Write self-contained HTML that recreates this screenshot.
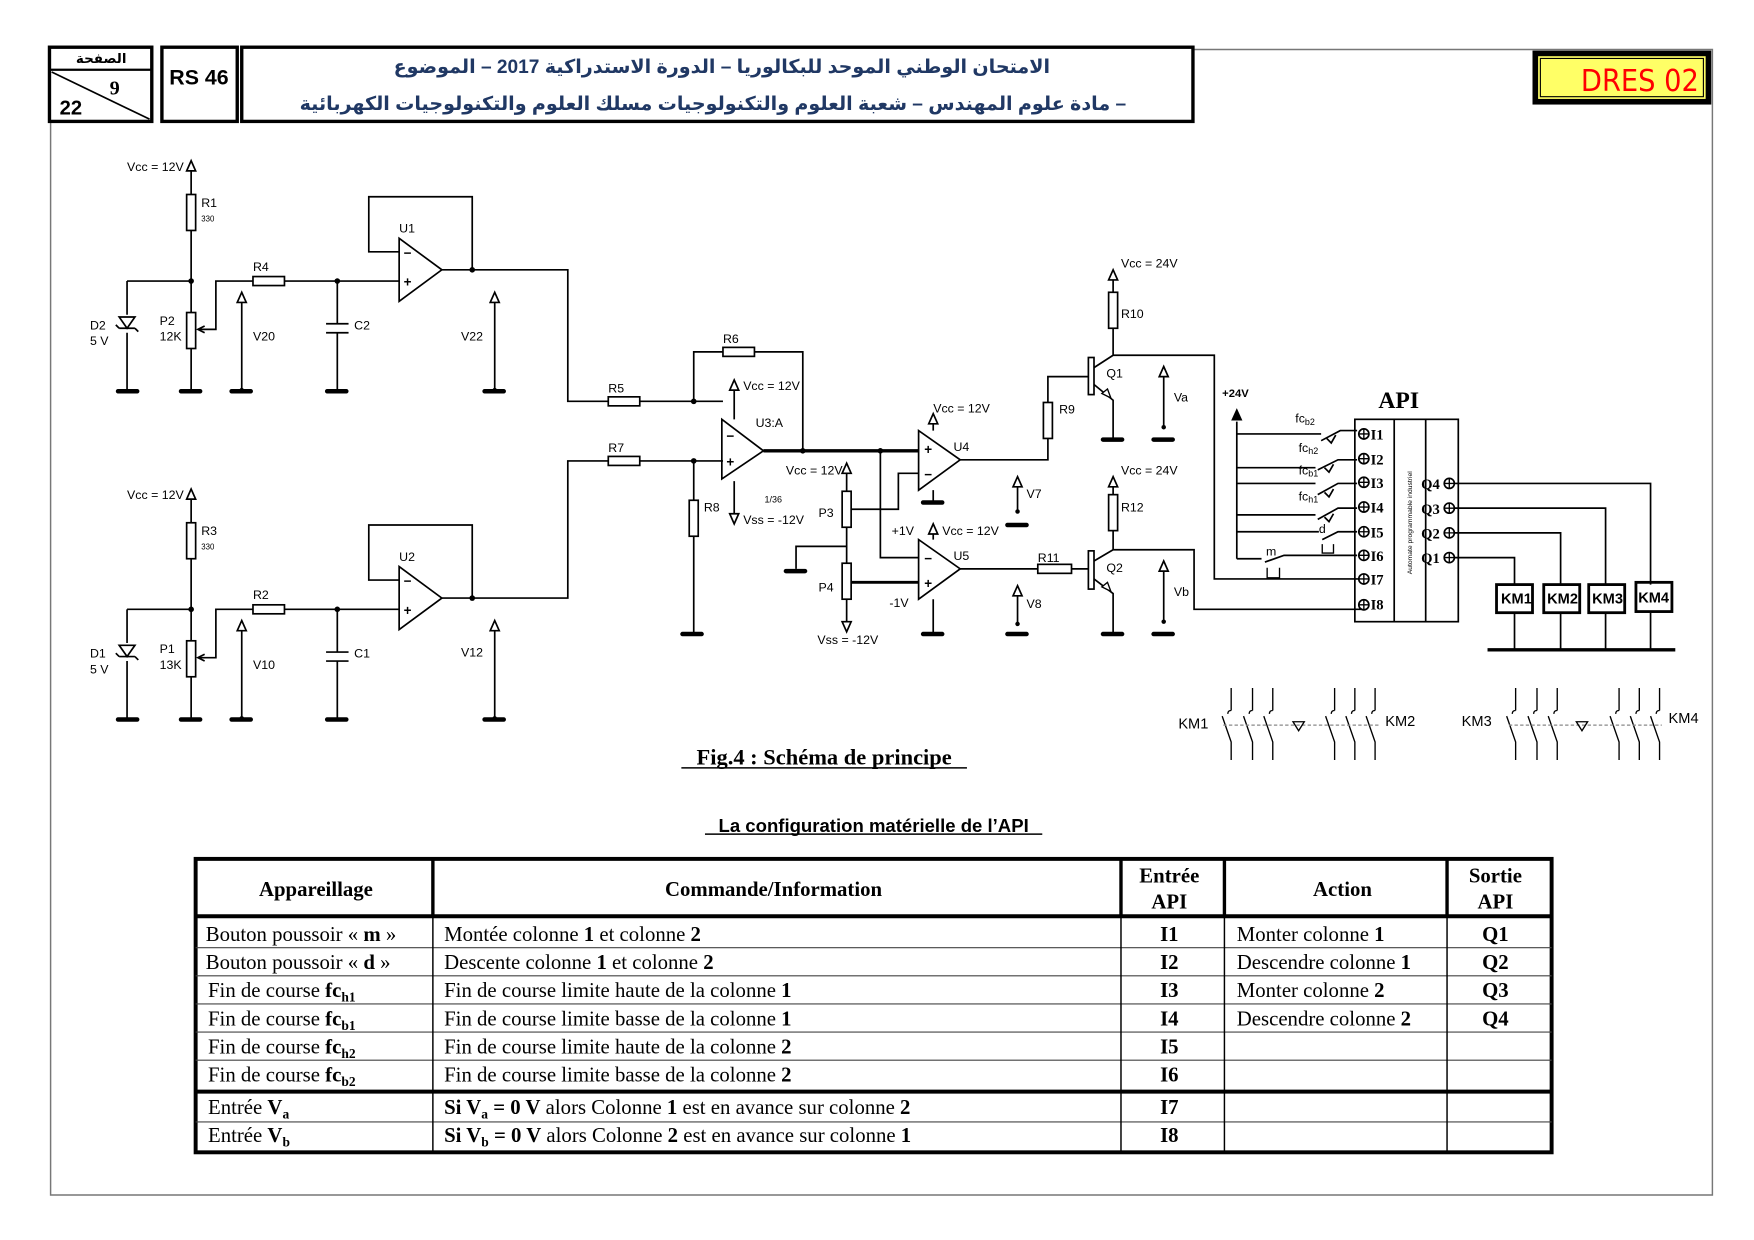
<!DOCTYPE html>
<html><head><meta charset="utf-8"><style>
html,body{margin:0;padding:0;background:#fff}
svg{display:block}
.s{font-family:"Liberation Sans",sans-serif}
.r{font-family:"Liberation Serif",serif}
</style></head><body>
<svg width="1754" height="1240" viewBox="0 0 1560 1103" preserveAspectRatio="none" xmlns="http://www.w3.org/2000/svg">
<!-- page border -->
<g fill="none" stroke="#777" stroke-width="1.3">
<path d="M1060 44 H1523 V1063 H45 V108"/>
</g>
<!-- header -->
<g fill="none" stroke="#000">
<rect x="44" y="42" width="91" height="66" stroke-width="3"/>
<line x1="44" y1="62" x2="135" y2="62" stroke-width="2"/>
<line x1="46" y1="64" x2="133" y2="106" stroke-width="1.5"/>
<rect x="144" y="42" width="67" height="66" stroke-width="3"/>
<rect x="215" y="42" width="846" height="66" stroke-width="3"/>
</g>
<text x="90" y="56" font-size="12" text-anchor="middle" font-weight="bold" style="font-family:'Liberation Sans','DejaVu Sans',sans-serif">الصفحة</text>
<text x="102" y="84" font-size="18" class="r" font-weight="bold" text-anchor="middle">9</text>
<text x="63" y="102" font-size="18" class="s" font-weight="bold" text-anchor="middle">22</text>
<text x="177" y="75" font-size="19" class="s" font-weight="bold" text-anchor="middle">RS 46</text>
<text x="642" y="65" font-size="17" font-weight="bold" fill="#203864" text-anchor="middle" style="font-family:'Liberation Sans','DejaVu Sans',sans-serif" direction="rtl">الامتحان الوطني الموحد للبكالوريا – الدورة الاستدراكية  2017 – الموضوع</text>
<text x="634" y="98" font-size="17" font-weight="bold" fill="#203864" text-anchor="middle" style="font-family:'Liberation Sans','DejaVu Sans',sans-serif" direction="rtl">– مادة علوم المهندس  –  شعبة العلوم والتكنولوجيات مسلك العلوم والتكنولوجيات الكهربائية</text>
<!-- DRES -->
<rect x="1363" y="45" width="159" height="48" fill="#000"/>
<rect x="1368" y="50" width="149" height="38" fill="#ffff66"/>
<rect x="1370" y="52" width="145" height="34" fill="none" stroke="#000" stroke-width="1"/>
<text x="1511" y="81" font-size="27" fill="#ff0000" text-anchor="end" style="font-family:'DejaVu Sans Condensed','DejaVu Sans',sans-serif" font-stretch="condensed">DRES 02</text>

<!-- CIRCUIT -->
<g fill="none" stroke="#000" stroke-width="1.5">
<path d="M170 152 V173 M170 205 V278 M170 310 V347 M113 250 H170 M113 250 V280 M113 296 V347"/>
<rect x="166" y="173" width="8" height="32"/>
<rect x="166" y="278" width="8" height="32"/>
<path d="M106 282 H120 L113 292 Z M106 292 H120 M106 292 l-3 -3 M120 292 l3 3"/>
<path d="M176 293 H192 V250 H225 M253 250 H355 M300 250 V288 M300 296 V347 M290 288 H310 M290 296 H310"/>
<path d="M182 290 l-6 3 l6 3" />
<rect x="225" y="246" width="28" height="8"/>
<path d="M355 212 L355 268 L393 240 Z"/>
<path d="M355 224 H328 V175 H420 V240 M393 240 H505 V357 H541 M569 357 H643 M617 357 V313 H643 M671 313 H714 V401"/>
<rect x="541" y="353" width="28" height="8"/>
<rect x="643" y="309" width="28" height="8"/>
<path d="M215 347 V262 M440 347 V262"/>
<path d="M170 444 V465 M170 497 V570 M170 602 V639 M113 542 H170 M113 542 V572 M113 588 V639"/>
<rect x="166" y="465" width="8" height="32"/>
<rect x="166" y="570" width="8" height="32"/>
<path d="M106 574 H120 L113 584 Z M106 584 H120 M106 584 l-3 -3 M120 584 l3 3"/>
<path d="M176 585 H192 V542 H225 M253 542 H355 M300 542 V580 M300 588 V639 M290 580 H310 M290 588 H310"/>
<path d="M182 582 l-6 3 l6 3"/>
<rect x="225" y="538" width="28" height="8"/>
<path d="M355 504 L355 560 L393 532 Z"/>
<path d="M355 516 H328 V467 H420 V532 M393 532 H505 V410 H541 M569 410 H643 M617 410 V445 M617 477 V563"/>
<rect x="541" y="406" width="28" height="8"/>
<rect x="613" y="445" width="8" height="32"/>
<path d="M215 639 V554 M440 639 V554"/>
<path d="M642 373 L642 426 L679 401 Z"/>
<path d="M653 373 V342 M653 428 V462"/>
<path d="M679 401 H817" stroke-width="3"/>
<path d="M783 401 V496 H817"/>
<path d="M817 383 L817 436 L854 409 Z"/>
<path d="M817 421 H799 V453 H757 M753 420 V437 M753 469 V501 M753 533 V558 M753 486 H708 V506"/>
<path d="M757 518 H817" stroke-width="2.5"/>
<rect x="749" y="437" width="8" height="32"/>
<rect x="749" y="501" width="8" height="32"/>
<path d="M817 480 L817 533 L854 506 Z"/>
<path d="M830 383 V372 M830 436 V446 M830 480 V470 M830 533 V563"/>
<path d="M854 409 H932 V390 M932 358 V335 H970 M854 506 H923 M953 506 H970"/>
<rect x="928" y="358" width="8" height="32"/>
<rect x="923" y="502" width="30" height="8"/>
<path d="M905 455 V427 M905 555 V525 M1035 380 V330 M1035 553 V503"/>
<rect x="968" y="318" width="5" height="33" fill="#fff"/>
<path d="M973 327 L990 316 V292 M990 260 V244 M973 342 L990 356 V390 M990 316 H1080 V515 H1215"/>
<rect x="986" y="260" width="8" height="32"/>
<rect x="968" y="490" width="5" height="34" fill="#fff"/>
<path d="M973 499 L990 489 V472 M990 440 V428 M973 515 L990 528 V563 M990 489 H1062 V542 H1215"/>
<rect x="986" y="440" width="8" height="32"/>
<path d="M1100 375 V497 M1100 386 H1175 M1100 416 H1170 M1100 430 H1170 M1100 458 H1170 M1100 473 H1173 M1100 497 H1122"/>
<path d="M1175 392 L1192 383 H1207 M1172 418 L1190 409 H1207 M1172 440 L1190 430 H1207 M1172 462 L1190 452 H1207 M1176 480 L1190 473 H1207 M1125 500 L1142 494 H1207"/>
<path d="M1180 390 l4 4 l4 -7 M1178 416 l4 4 l4 -7 M1178 438 l4 4 l4 -7 M1178 460 l4 4 l4 -7"/>
<path d="M1176 484 V492 H1186 V484 M1127 505 V514 H1138 V505" stroke-width="1.2"/>
<rect x="1205" y="373" width="92" height="180"/>
<path d="M1240 373 V553 M1268 373 V553"/>
<path d="M1294 430 H1468 V520 M1294 452 H1428 V520 M1294 474 H1388 V520 M1294 496 H1347 V520 M1347 545 V578 M1388 545 V578 M1428 545 V578 M1468 545 V578"/>
<rect x="1331" y="520" width="32" height="25" stroke-width="2.5"/>
<rect x="1373" y="520" width="32" height="25" stroke-width="2.5"/>
<rect x="1413" y="520" width="32" height="25" stroke-width="2.5"/>
<rect x="1455" y="518" width="32" height="26" stroke-width="2.5"/>
<path d="M1323 578 H1490" stroke-width="3"/>
</g>
<g fill="#fff" stroke="#000" stroke-width="1.5">
<circle cx="1213" cy="386" r="4.5"/><circle cx="1213" cy="408" r="4.5"/><circle cx="1213" cy="429" r="4.5"/><circle cx="1213" cy="451" r="4.5"/>
<circle cx="1213" cy="473" r="4.5"/><circle cx="1213" cy="494" r="4.5"/><circle cx="1213" cy="515" r="4.5"/><circle cx="1213" cy="538" r="4.5"/>
<circle cx="1289" cy="430" r="4.5"/><circle cx="1289" cy="452" r="4.5"/><circle cx="1289" cy="474" r="4.5"/><circle cx="1289" cy="496" r="4.5"/>
</g>
<g stroke="#000" stroke-width="1.2">
<path d="M1208 386 h10 M1213 381 v10 M1208 408 h10 M1213 403 v10 M1208 429 h10 M1213 424 v10 M1208 451 h10 M1213 446 v10 M1208 473 h10 M1213 468 v10 M1208 494 h10 M1213 489 v10 M1208 515 h10 M1213 510 v10 M1208 538 h10 M1213 533 v10 M1284 430 h10 M1289 425 v10 M1284 452 h10 M1289 447 v10 M1284 474 h10 M1289 469 v10 M1284 496 h10 M1289 491 v10"/>
</g>
<g fill="#fff" stroke="#000" stroke-width="1.5">
<path d="M170 143 l-4 9 h8 z M170 435 l-4 9 h8 z M215 260 l-4 9 h8 z M440 260 l-4 9 h8 z M215 552 l-4 9 h8 z M440 552 l-4 9 h8 z"/>
<path d="M653 338 l-4 9 h8 z M653 466 l-4 -9 h8 z M753 412 l-4 9 h8 z M753 562 l-4 -9 h8 z M830 368 l-4 9 h8 z M830 466 l-4 9 h8 z"/>
<path d="M905 424 l-4 9 h8 z M905 521 l-4 9 h8 z M1035 326 l-4 9 h8 z M1035 499 l-4 9 h8 z M990 240 l-4 9 h8 z M990 424 l-4 9 h8 z"/>
</g>
<path d="M1100 363 l-5 11 h10 z" fill="#000"/>
<path d="M980 350 l8 4 l-3 -8 z M980 522 l8 4 l-3 -8 z" fill="#fff" stroke="#000" stroke-width="1.2"/>
<g fill="#000">
<circle cx="170" cy="250" r="2.5"/><circle cx="300" cy="250" r="2.5"/><circle cx="420" cy="240" r="2.5"/>
<circle cx="170" cy="542" r="2.5"/><circle cx="300" cy="542" r="2.5"/><circle cx="420" cy="532" r="2.5"/>
<circle cx="617" cy="357" r="2.5"/><circle cx="617" cy="410" r="2.5"/><circle cx="714" cy="401" r="2.5"/><circle cx="783" cy="401" r="2.5"/>
<circle cx="905" cy="455" r="2"/><circle cx="905" cy="555" r="2"/><circle cx="1035" cy="380" r="2"/><circle cx="1035" cy="553" r="2"/>
<circle cx="215" cy="347" r="2"/><circle cx="440" cy="347" r="2"/><circle cx="215" cy="639" r="2"/><circle cx="440" cy="639" r="2"/>
</g>
<g stroke="#000" stroke-width="4" stroke-linecap="round">
<path d="M105 348 h17 M161 348 h17 M206 348 h17 M291 348 h17 M431 348 h17"/>
<path d="M105 640 h17 M161 640 h17 M206 640 h17 M291 640 h17 M431 640 h17"/>
<path d="M607 564 h17 M699 508 h17 M821 447 h17 M821 564 h17 M896 467 h17 M896 564 h17 M981 391 h17 M1026 391 h17 M981 564 h17 M1026 564 h17"/>
</g>
<g class="s" font-size="11" fill="#000">
<text x="113" y="152">Vcc = 12V</text><text x="179" y="184">R1</text><text x="179" y="197" font-size="7">330</text>
<text x="225" y="241">R4</text><text x="80" y="293">D2</text><text x="80" y="307">5 V</text>
<text x="142" y="289">P2</text><text x="142" y="303">12K</text><text x="225" y="303">V20</text><text x="315" y="293">C2</text>
<text x="355" y="207">U1</text><text x="410" y="303">V22</text>
<text x="113" y="444">Vcc = 12V</text><text x="179" y="476">R3</text><text x="179" y="489" font-size="7">330</text>
<text x="225" y="533">R2</text><text x="80" y="585">D1</text><text x="80" y="599">5 V</text>
<text x="142" y="581">P1</text><text x="142" y="595">13K</text><text x="225" y="595">V10</text><text x="315" y="585">C1</text>
<text x="355" y="499">U2</text><text x="410" y="584">V12</text>
<text x="643" y="305">R6</text><text x="541" y="349">R5</text><text x="541" y="402">R7</text><text x="626" y="455">R8</text>
<text x="661" y="347">Vcc = 12V</text><text x="672" y="380">U3:A</text><text x="661" y="466">Vss = -12V</text>
<text x="680" y="447" font-size="8">1/36</text>
<text x="699" y="422">Vcc = 12V</text><text x="728" y="460">P3</text><text x="728" y="526">P4</text>
<text x="727" y="573">Vss = -12V</text><text x="793" y="476">+1V</text><text x="791" y="540">-1V</text>
<text x="830" y="367">Vcc = 12V</text><text x="848" y="401">U4</text>
<text x="838" y="476">Vcc = 12V</text><text x="848" y="498">U5</text>
<text x="913" y="443">V7</text><text x="913" y="541">V8</text>
<text x="942" y="368">R9</text><text x="923" y="500">R11</text>
<text x="997" y="238">Vcc = 24V</text><text x="997" y="283">R10</text><text x="984" y="336">Q1</text><text x="1044" y="357">Va</text>
<text x="997" y="422">Vcc = 24V</text><text x="997" y="455">R12</text><text x="984" y="509">Q2</text><text x="1044" y="530">Vb</text>
<text x="1087" y="353" font-weight="bold" font-size="10">+24V</text>
<text x="1152" y="376">fc<tspan font-size="8" dy="2">b2</tspan></text>
<text x="1155" y="402">fc<tspan font-size="8" dy="2">h2</tspan></text>
<text x="1155" y="422">fc<tspan font-size="8" dy="2">b1</tspan></text>
<text x="1155" y="445">fc<tspan font-size="8" dy="2">h1</tspan></text>
<text x="1173" y="474">d</text><text x="1126" y="494">m</text>
<text x="1335" y="537" font-weight="bold" font-size="13">KM1</text><text x="1376" y="537" font-weight="bold" font-size="13">KM2</text>
<text x="1416" y="537" font-weight="bold" font-size="13">KM3</text><text x="1457" y="536" font-weight="bold" font-size="13">KM4</text>
<text x="1048" y="648" font-size="13">KM1</text><text x="1232" y="646" font-size="13">KM2</text>
<text x="1300" y="646" font-size="13">KM3</text><text x="1484" y="643" font-size="13">KM4</text>
</g>
<text x="1256" y="465" font-size="6" class="s" transform="rotate(-90 1256 465)" text-anchor="middle">Automate programmable industriel</text>
<g class="r" font-weight="bold" font-size="13">
<text x="1219" y="391">I1</text><text x="1219" y="413">I2</text><text x="1219" y="434">I3</text><text x="1219" y="456">I4</text>
<text x="1219" y="478">I5</text><text x="1219" y="499">I6</text><text x="1219" y="520">I7</text><text x="1219" y="542">I8</text>
<text x="1264" y="435">Q4</text><text x="1264" y="457">Q3</text><text x="1264" y="479">Q2</text><text x="1264" y="501">Q1</text>
</g>
<text x="1244" y="363" class="r" font-weight="bold" font-size="21" text-anchor="middle">API</text>
<g stroke="#000" stroke-width="1.2" fill="none">
<path d="M1095 612 V632 M1087 637 L1095 660 V676 M1114 612 V632 M1106 637 L1114 660 V676 M1132 612 V632 M1124 637 L1132 660 V676"/>
<path d="M1187 612 V632 M1179 637 L1187 660 V676 M1205 612 V632 M1197 637 L1205 660 V676 M1223 612 V632 M1215 637 L1223 660 V676"/>
<path d="M1348 612 V632 M1340 637 L1348 660 V676 M1367 612 V632 M1359 637 L1367 660 V676 M1385 612 V632 M1377 637 L1385 660 V676"/>
<path d="M1440 612 V632 M1432 637 L1440 660 V676 M1458 612 V632 M1450 637 L1458 660 V676 M1476 612 V632 M1468 637 L1476 660 V676"/>
<path d="M1095 632 q-3 0 -3 3 M1114 632 q-3 0 -3 3 M1132 632 q-3 0 -3 3 M1187 632 q-3 0 -3 3 M1205 632 q-3 0 -3 3 M1223 632 q-3 0 -3 3 M1348 632 q-3 0 -3 3 M1367 632 q-3 0 -3 3 M1385 632 q-3 0 -3 3 M1440 632 q-3 0 -3 3 M1458 632 q-3 0 -3 3 M1476 632 q-3 0 -3 3"/>
<path d="M1088 645 H1226 M1342 645 H1478" stroke="#888" stroke-dasharray="3 2"/>
<path d="M1150 642 h10 l-5 8 z M1402 642 h10 l-5 8 z"/>
</g>
<text x="733" y="680" class="r" font-weight="bold" font-size="20" text-anchor="middle">Fig.4 : Schéma de principe</text>
<line x1="606" y1="683" x2="860" y2="683" stroke="#000" stroke-width="1.3"/>
<text x="777" y="740" class="s" font-weight="bold" font-size="16.5" text-anchor="middle">La configuration matérielle de l’API</text>
<line x1="627" y1="742" x2="927" y2="742" stroke="#000" stroke-width="1.3"/>
<g stroke="#000" fill="none">
<rect x="174" y="764" width="1206" height="261" stroke-width="3.5"/>
<path d="M174 815 H1380 M174 971 H1380" stroke-width="3.5"/>
<path d="M174 843 H1380 M174 868 H1380 M174 893 H1380 M174 918 H1380 M174 943 H1380 M174 998 H1380" stroke-width="1" stroke="#444"/>
<path d="M385 764 V1025 M997 764 V1025 M1089 764 V1025 M1287 764 V1025" stroke-width="1.3"/>
<path d="M385 764 V815 M997 764 V815 M1089 764 V815 M1287 764 V815" stroke-width="3"/>
</g>
<g class="r" font-size="18.5">
<g font-weight="bold" text-anchor="middle">
<text x="281" y="797">Appareillage</text><text x="688" y="797">Commande/Information</text>
<text x="1040" y="785">Entrée</text><text x="1040" y="808">API</text>
<text x="1194" y="797">Action</text><text x="1330" y="785">Sortie</text><text x="1330" y="808">API</text>
<text x="1040" y="837">I1</text><text x="1040" y="862">I2</text><text x="1040" y="887">I3</text><text x="1040" y="912">I4</text>
<text x="1040" y="937">I5</text><text x="1040" y="962">I6</text><text x="1040" y="991">I7</text><text x="1040" y="1016">I8</text>
<text x="1330" y="837">Q1</text><text x="1330" y="862">Q2</text><text x="1330" y="887">Q3</text><text x="1330" y="912">Q4</text>
</g>
<text x="183" y="837">Bouton poussoir « <tspan font-weight="bold">m</tspan> »</text>
<text x="183" y="862">Bouton poussoir « <tspan font-weight="bold">d</tspan> »</text>
<text x="185" y="887">Fin de course <tspan font-weight="bold">fc<tspan font-size="12" dy="4">h1</tspan></tspan></text>
<text x="185" y="912">Fin de course <tspan font-weight="bold">fc<tspan font-size="12" dy="4">b1</tspan></tspan></text>
<text x="185" y="937">Fin de course <tspan font-weight="bold">fc<tspan font-size="12" dy="4">h2</tspan></tspan></text>
<text x="185" y="962">Fin de course <tspan font-weight="bold">fc<tspan font-size="12" dy="4">b2</tspan></tspan></text>
<text x="185" y="991">Entrée <tspan font-weight="bold">V<tspan font-size="12" dy="4">a</tspan></tspan></text>
<text x="185" y="1016">Entrée <tspan font-weight="bold">V<tspan font-size="12" dy="4">b</tspan></tspan></text>
<text x="395" y="837">Montée colonne <tspan font-weight="bold">1</tspan> et colonne <tspan font-weight="bold">2</tspan></text>
<text x="395" y="862">Descente colonne <tspan font-weight="bold">1</tspan> et colonne <tspan font-weight="bold">2</tspan></text>
<text x="395" y="887">Fin de course limite haute de la colonne <tspan font-weight="bold">1</tspan></text>
<text x="395" y="912">Fin de course limite basse de la colonne <tspan font-weight="bold">1</tspan></text>
<text x="395" y="937">Fin de course limite haute de la colonne <tspan font-weight="bold">2</tspan></text>
<text x="395" y="962">Fin de course limite basse de la colonne <tspan font-weight="bold">2</tspan></text>
<text x="395" y="991"><tspan font-weight="bold">Si V<tspan font-size="12" dy="4">a</tspan><tspan dy="-4"> = 0 V</tspan></tspan> alors Colonne <tspan font-weight="bold">1</tspan> est en avance sur colonne <tspan font-weight="bold">2</tspan></text>
<text x="395" y="1016"><tspan font-weight="bold">Si V<tspan font-size="12" dy="4">b</tspan><tspan dy="-4"> = 0 V</tspan></tspan> alors Colonne <tspan font-weight="bold">2</tspan> est en avance sur colonne <tspan font-weight="bold">1</tspan></text>
<text x="1100" y="837">Monter colonne <tspan font-weight="bold">1</tspan></text>
<text x="1100" y="862">Descendre colonne <tspan font-weight="bold">1</tspan></text>
<text x="1100" y="887">Monter colonne <tspan font-weight="bold">2</tspan></text>
<text x="1100" y="912">Descendre colonne <tspan font-weight="bold">2</tspan></text>
</g>
<g class="s" font-weight="bold" font-size="12">
<text x="359" y="229">−</text><text x="359" y="255">+</text>
<text x="359" y="521">−</text><text x="359" y="547">+</text>
<text x="646" y="392">−</text><text x="646" y="415">+</text>
<text x="822" y="404">+</text><text x="822" y="426">−</text>
<text x="822" y="501">−</text><text x="822" y="523">+</text>
</g>
</svg>
</body></html>
